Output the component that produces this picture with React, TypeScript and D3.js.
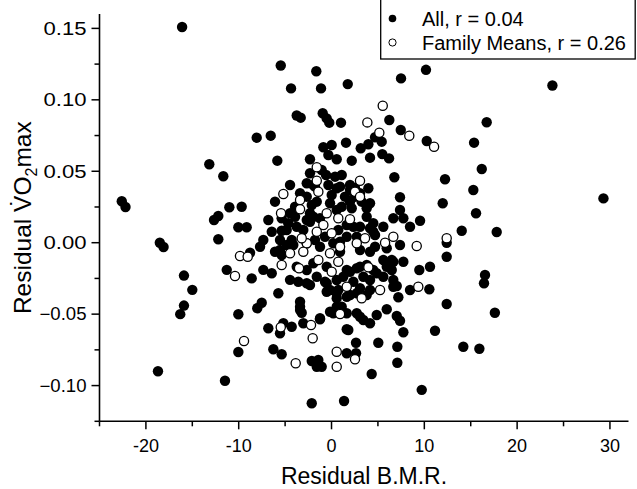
import * as d3 from 'd3'

const W = 637
const H = 489
const M = { left: 99.5, right: 628.5, top: 14.1, bottom: 421.3 }

const X_DOMAIN = [-25, 32]
const Y_DOMAIN = [-0.125, 0.16]
const X_TICKS = [-20, -10, 0, 10, 20, 30]
const X_MINOR = [-25, -15, -5, 5, 15, 25]
const Y_TICKS = [-0.1, -0.05, 0, 0.05, 0.1, 0.15]
const Y_MINOR = [-0.125, -0.075, -0.025, 0.025, 0.075, 0.125]
const LEGEND = ['All, r = 0.04', 'Family Means, r = 0.26']

// all individuals (filled)
const ALL: [number, number][] = [
  [-16.1, 0.151], [-22.6, 0.029], [-22.2, 0.025], [-18.5, 0.0], [-18.1, -0.003],
  [-15.9, -0.023], [-15.0, -0.033], [-15.9, -0.044], [-16.3, -0.05], [-18.7, -0.09],
  [-5.47, 0.124], [-1.64, 0.12], [-4.36, 0.108], [-1.13, 0.108], [1.75, 0.111],
  [-3.75, 0.089], [-3.32, 0.0875], [-0.95, 0.0906], [-0.52, 0.087], [-0.24, 0.084],
  [1.02, 0.084], [-8.06, 0.0735], [-6.55, 0.0749], [-5.84, 0.0574], [-13.17, 0.0549],
  [-11.66, 0.0465], [-2.32, 0.0584], [-0.88, 0.0668], [0.02, 0.0684], [-0.34, 0.0614],
  [0.56, 0.0584], [1.56, 0.07], [-2.32, 0.0486], [-1.06, 0.0509], [-0.59, 0.0474],
  [0.38, 0.0462], [1.1, 0.0474], [-1.96, 0.0404], [-0.34, 0.0404], [0.56, 0.0381],
  [7.49, 0.115], [10.18, 0.121], [6.23, 0.0859], [7.46, 0.0789], [10.26, 0.0712],
  [16.72, 0.0843], [15.36, 0.07], [4.69, 0.0738], [5.41, 0.0707], [3.97, 0.0689],
  [3.15, 0.0661], [2.18, 0.0574], [4.15, 0.0595], [5.47, 0.062], [6.2, 0.059],
  [6.77, 0.0458], [12.23, 0.0444], [16.19, 0.0516], [15.28, 0.0369], [1.99, 0.0404],
  [2.53, 0.0383],
  [-6.09, 0.0287], [-11.01, 0.0248], [-9.68, 0.0252], [-12.2, 0.0187], [-12.66, 0.0159],
  [-10.04, 0.0108], [-9.14, 0.0108], [-12.2, 0.0024], [-6.81, 0.0159], [-5.37, 0.0171],
  [-6.44, 0.0077], [-5.37, 0.0084], [-7.7, -0.0028], [-5.55, -0.0051], [-5.37, -0.0086],
  [-8.78, -0.007], [-11.29, -0.019], [-8.6, -0.025], [-7.35, -0.019], [-6.44, -0.0214],
  [-5.73, -0.0354], [-4.47, -0.026], [-3.58, -0.0273], [-2.67, -0.0284],
  [-4.47, 0.0404], [-2.67, 0.0416], [-1.78, 0.0392], [-3.93, 0.0252], [-4.47, 0.0206],
  [-2.67, 0.0159], [-1.96, 0.0182], [-4.66, 0.0136], [-3.75, 0.0112], [-4.29, 0.0019],
  [-4.83, -0.0016], [-1.59, -0.0238], [-0.7, -0.0273], [0.56, -0.0261], [1.27, -0.0238],
  [0.92, 0.0392], [0.02, 0.0334], [1.45, 0.0322], [-0.16, 0.0276], [1.1, 0.0252],
  [1.99, 0.0287], [2.18, 0.0241], [1.99, 0.0369], [3.25, 0.0287], [3.79, 0.0241],
  [3.97, 0.0381], [3.79, 0.0182], [3.07, 0.0112], [2.35, 0.0112], [1.64, 0.0124],
  [0.56, 0.0229], [0.73, 0.0089], [-0.7, 0.0042], [-1.78, 0.0019], [-3.04, 0.0089],
  [-3.93, 0.0182], [-2.32, 0.0206], [-2.13, 0.0264], [-2.67, 0.0322], [-3.39, 0.0346],
  [-4.83, 0.0089], [-7.35, 0.0019], [-5.55, 0.0019], [-2.32, 0.0147], [-1.24, 0.0171],
  [1.64, 0.0042], [2.72, 0.0042], [0.92, 0.0007], [-1.59, 0.0287],
  [7.38, 0.0318], [11.98, 0.0276], [15.57, 0.0206], [4.15, 0.0276], [7.38, 0.0229],
  [6.66, 0.0171], [7.74, 0.0171], [8.46, 0.0112], [9.54, 0.0154], [5.58, 0.0112],
  [14.03, 0.0084], [4.15, 0.0101], [4.69, 0.0054], [7.38, -0.0016], [12.41, 0.0],
  [12.41, -0.0098], [4.5, 0.0136], [4.5, 0.0077], [7.74, -0.0133], [9.46, -0.0191],
  [10.61, -0.0168], [16.54, -0.0226], [16.43, -0.0284], [10.54, -0.0326], [8.46, -0.0331],
  [7.2, -0.0382], [5.58, -0.0121], [6.49, -0.0121], [5.95, -0.0168], [6.49, -0.0191],
  [4.15, -0.0063], [4.69, -0.0028], [5.95, -0.0039], [1.64, -0.0191], [2.72, -0.0179],
  [3.79, -0.0156], [4.5, -0.0191], [5.58, -0.0238], [6.66, -0.0261], [3.07, -0.0319],
  [3.79, -0.0366], [1.99, -0.0366], [7.03, -0.0303], [2.53, 0.0322], [3.07, 0.0346],
  [-7.52, -0.042], [-8.0, -0.0459], [-10.04, -0.0501], [-6.81, -0.0599], [-5.19, -0.0564],
  [-5.55, -0.0634], [-4.29, -0.0588], [-3.39, -0.0413], [-3.39, -0.0448], [-3.21, -0.049],
  [-3.04, -0.0564], [-1.24, -0.0536], [-10.04, -0.0765], [-6.27, -0.0746], [-5.37, -0.0781],
  [-2.13, -0.0828], [-1.42, -0.0821], [-1.59, -0.0868], [-1.06, -0.0868], [1.64, -0.0774],
  [-11.48, -0.0966], [-2.13, -0.1124], [1.35, -0.1108], [-0.52, -0.0343], [0.56, -0.0354],
  [0.56, -0.0389], [0.19, -0.0494], [1.1, -0.0448], [1.64, -0.0494], [1.64, -0.0606],
  [12.41, -0.0429], [5.95, -0.0466], [4.87, -0.0506], [7.03, -0.0513], [7.38, -0.0546],
  [7.74, -0.0627], [11.15, -0.0616], [2.72, -0.0494], [3.43, -0.0541], [4.15, -0.0564],
  [1.81, -0.0611], [5.04, -0.07], [2.64, -0.07], [7.09, -0.0728], [14.2, -0.0728],
  [15.93, -0.0742], [2.64, -0.0774], [7.09, -0.084], [4.33, -0.0919], [9.72, -0.103],
  [-4.12, -0.0016], [-2.67, -0.0004], [-1.24, -0.0028], [0.19, -0.0004], [0.92, -0.0063],
  [3.07, -0.0051], [6.66, -0.0133], [3.07, -0.0168], [1.99, -0.0203], [-0.52, -0.0168],
  [-1.96, -0.0144], [-2.67, -0.0191], [-3.75, -0.0168], [-6.09, -0.0063], [-2.32, -0.0296],
  [-0.52, -0.0284], [-0.16, -0.0331], [0.73, -0.0331], [2.35, -0.0273], [3.43, -0.0238],
  [4.15, -0.0261], [4.87, -0.0214], [4.15, -0.0331], [2.72, -0.0354], [1.64, -0.0378],
  [0.56, -0.0448], [-0.16, -0.0483], [3.07, -0.0518], [6.66, -0.0308], [-1.24, -0.0529],
  [-3.39, -0.0471],
  [23.8, 0.11], [29.3, 0.031], [17.8, 0.0075], [17.6, -0.049],
]

// family means (open)
const FAMILY: [number, number][] = [
  [-1.59, 0.0528], [-1.59, 0.0434], [5.52, 0.0959], [3.86, 0.0842], [5.15, 0.077],
  [8.38, 0.0749], [11.05, 0.0672], [3.07, 0.0434], [-5.19, 0.0341], [-5.44, 0.0206],
  [-9.86, -0.0093], [-9.03, -0.0098], [-10.4, -0.0233], [-5.37, -0.0156], [-3.5, -0.0179],
  [-3.39, 0.0299], [-1.42, 0.0357], [-0.52, 0.0206], [0.73, 0.0171], [-0.88, 0.0124],
  [0.02, 0.0066], [-1.59, 0.0077], [-2.67, -0.0004], [-3.21, 0.0031], [-4.47, -0.0074],
  [-3.04, -0.0063], [-1.42, -0.0121], [-0.16, -0.0074], [0.73, -0.0133], [0.02, -0.0203],
  [0.92, -0.0028], [1.64, -0.0308], [-3.39, 0.0234], [1.99, 0.0164], [2.53, 0.0357],
  [3.07, 0.0322], [3.61, 0.0031], [2.72, -0.0004], [12.41, 0.0031], [6.66, 0.0042],
  [9.18, -0.0023], [5.77, 0.0], [9.35, -0.0308], [3.97, -0.0172], [5.23, -0.0331],
  [3.25, -0.0389], [-5.47, -0.0592], [-2.21, -0.0576], [-2.03, -0.0669], [-9.43, -0.0688],
  [-3.86, -0.0844], [0.56, -0.0763], [0.56, -0.0868], [0.92, -0.0499], [2.53, -0.0816],
]

const FONT = '"Liberation Sans", Arial, sans-serif'

export default function App() {
  const x = d3.scaleLinear().domain(X_DOMAIN).range([M.left, M.right])
  const y = d3.scaleLinear().domain(Y_DOMAIN).range([M.bottom, M.top])
  const fmtY = d3.format('.2f')

  return (
    <svg width={W} height={H} style={{ position: 'absolute', left: 0, top: 0, background: '#fff' }}
      fontFamily={FONT}>
      {/* points */}
      {ALL.map((d, i) => (
        <circle key={'a' + i} cx={x(d[0])} cy={y(d[1])} r={5.2} fill="#000" />
      ))}
      {FAMILY.map((d, i) => (
        <circle key={'f' + i} cx={x(d[0])} cy={y(d[1])} r={4.6} fill="#fff" stroke="#000" strokeWidth={1.3} />
      ))}

      {/* axes */}
      <line x1={M.left} x2={M.left} y1={M.top} y2={M.bottom} stroke="#000" strokeWidth={1.6} />
      <line x1={M.left} x2={M.right} y1={M.bottom} y2={M.bottom} stroke="#000" strokeWidth={1.6} />

      {Y_TICKS.map(t => (
        <g key={'yt' + t}>
          <line x1={M.left - 8} x2={M.left} y1={y(t)} y2={y(t)} stroke="#000" strokeWidth={1.5} />
          <text x={M.left - 13} y={y(t)} dy="0.36em" textAnchor="end" fontSize={17.5}
            textLength={t < 0 ? 47 : 43} lengthAdjust="spacingAndGlyphs">{fmtY(t)}</text>
        </g>
      ))}
      {Y_MINOR.map(t => (
        <line key={'ym' + t} x1={M.left - 5} x2={M.left} y1={y(t)} y2={y(t)} stroke="#000" strokeWidth={1.5} />
      ))}
      {X_TICKS.map(t => (
        <g key={'xt' + t}>
          <line x1={x(t)} x2={x(t)} y1={M.bottom} y2={M.bottom + 8} stroke="#000" strokeWidth={1.5} />
          <text x={x(t)} y={452} textAnchor="middle" fontSize={18}>{t}</text>
        </g>
      ))}
      {X_MINOR.map(t => (
        <line key={'xm' + t} x1={x(t)} x2={x(t)} y1={M.bottom} y2={M.bottom + 5} stroke="#000" strokeWidth={1.5} />
      ))}

      {/* axis titles */}
      <text x={(M.left + M.right) / 2} y={484} textAnchor="middle" fontSize={23}>Residual B.M.R.</text>
      <text transform={`translate(31,${(M.top + M.bottom) / 2}) rotate(-90)`} textAnchor="middle" fontSize={24.5}>
        Residual V&#775;O<tspan dy={6} fontSize={16}>2</tspan><tspan dy={-6}>max</tspan>
      </text>

      {/* legend */}
      <rect x={380.7} y={-1} width={254.5} height={60} fill="#fff" stroke="#000" strokeWidth={1.3} />
      <circle cx={392.5} cy={18.5} r={3.8} fill="#000" />
      <text x={422} y={26} fontSize={20}>{LEGEND[0]}</text>
      <circle cx={392.5} cy={42.5} r={3.6} fill="#fff" stroke="#000" strokeWidth={1} />
      <text x={422} y={50} fontSize={20}>{LEGEND[1]}</text>
    </svg>
  )
}
